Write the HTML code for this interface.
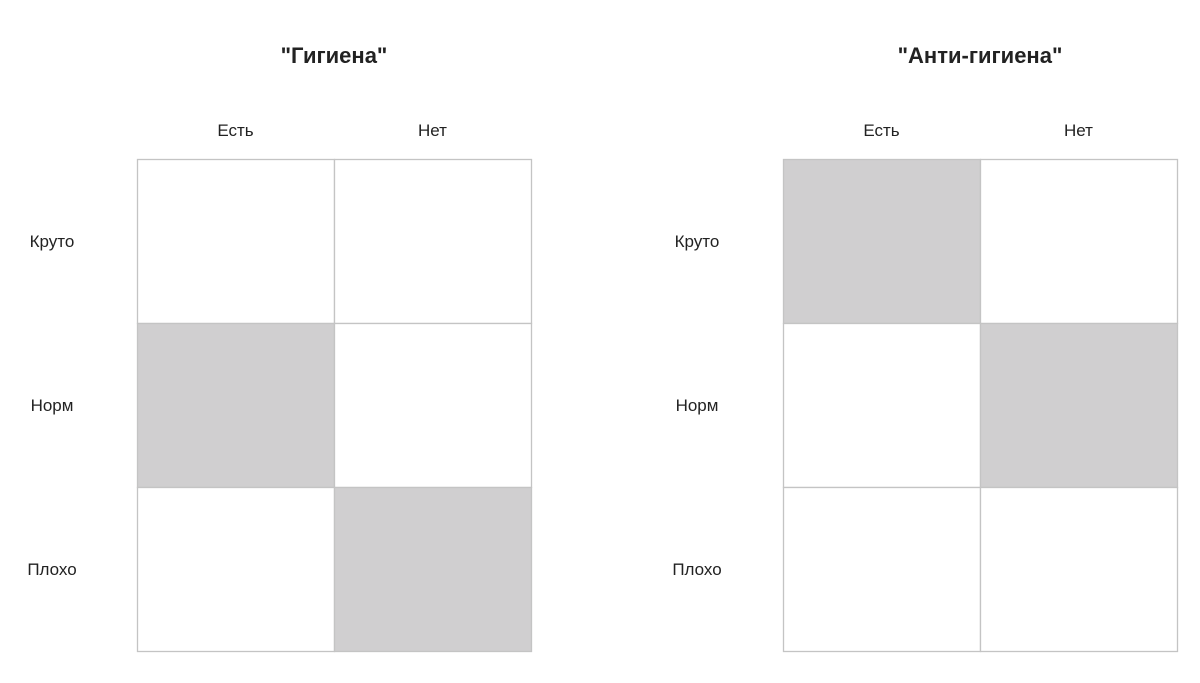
<!DOCTYPE html>
<html><head><meta charset="utf-8">
<style>
body{margin:0;background:#fff;width:1200px;height:678px;overflow:hidden;font-family:"Liberation Sans","DejaVu Sans",sans-serif;}
svg text{font-family:"Liberation Sans","DejaVu Sans",sans-serif;fill:#222;}
</style></head>
<body>
<svg id="chart" width="1200" height="678"></svg>
<script>
const rowLabels = ["Круто","Норм","Плохо"];
const colLabels = ["Есть","Нет"];
const panelTitles = ['"Гигиена"','"Анти-гигиена"'];
const hygieneShaded = [[0,0],[1,0],[0,1]];
const antiHygieneShaded = [[1,0],[0,1],[0,0]];
const panelsData = [hygieneShaded, antiHygieneShaded];

const NS="http://www.w3.org/2000/svg";
const svgEl=document.getElementById('chart');
function mk(tag,attrs,txt){const e=document.createElementNS(NS,tag);for(const k in attrs)e.setAttribute(k,attrs[k]);if(txt!==undefined)e.textContent=txt;svgEl.appendChild(e);return e;}
const panelX=[137,783], gridTop=159, cw=197, rh=164, labelX=[52,697];
panelsData.forEach((m,p)=>{
  const x0=panelX[p];
  const t=mk('text',{x:x0+cw,y:63,'text-anchor':'middle','font-size':22,'font-weight':'bold'},panelTitles[p]);
  
  
  colLabels.forEach((c,j)=>{
    const e=mk('text',{x:x0+cw*j+cw/2,y:136,'text-anchor':'middle','font-size':17},c);
    
    
  });
  rowLabels.forEach((r,i)=>{
    const e=mk('text',{x:labelX[p],y:gridTop+rh*i+rh/2+6,'text-anchor':'middle','font-size':17},r);
    
    
    m[i].forEach((v,j)=>{
      const c=mk('rect',{x:x0+cw*j+0.5,y:gridTop+rh*i+0.5,width:cw,height:rh,fill:v?'#d0cfd0':'#fff',stroke:'#c4c4c4','stroke-width':1.3});
      
      
    });
  });
});
</script>
</body></html>
